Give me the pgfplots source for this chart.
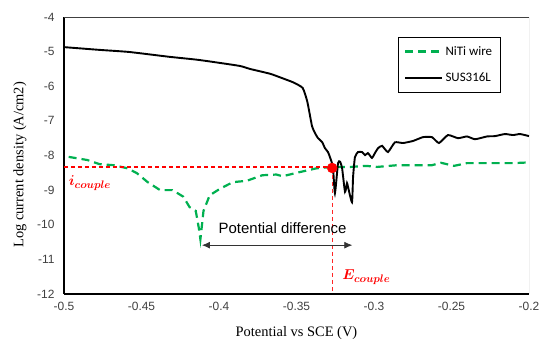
\documentclass[border=0pt]{standalone}
\usepackage{pgfplots}
\pgfplotsset{compat=1.18}
\usepackage{fontspec}
\usepackage{bm}
\setmainfont{Liberation Serif}
\newfontfamily\arialf{Liberation Sans}
\newfontfamily\calibrif{Carlito}
\usetikzlibrary{calc,arrows.meta}
\definecolor{nitigreen}{RGB}{0,176,80}
\definecolor{tickgray}{RGB}{64,64,64}
\begin{document}
\begin{tikzpicture}
\begin{axis}[
  name=ax,
  scale only axis, width=465bp, height=277bp,
  xmin=-0.5, xmax=-0.2, ymin=-12, ymax=-4,
  xtick={-0.5,-0.45,-0.4,-0.35,-0.3,-0.25,-0.2},
  xticklabels={-0.5,-0.45,-0.4,-0.35,-0.3,-0.25,-0.2},
  ytick={-12,-11,-10,-9,-8,-7,-6,-5,-4},
  yticklabels={-12,-11,-10,-9,-8,-7,-6,-5,-4},
  major tick length=0pt,
  axis x line*=bottom, axis y line*=left,
  axis line style={black, line width=1.3bp, -},
  /pgf/number format/assume math mode=true,
  ticklabel style={font=\arialf\fontsize{12}{14}\selectfont, text=tickgray},
  xticklabel style={yshift=-5bp},
  yticklabel style={xshift=-6bp},
  xlabel={Potential vs SCE (V)},
  ylabel={Log current density (A/cm2)},
  label style={font=\fontsize{14.5}{17}\selectfont},
  xlabel style={at={(axis description cs:0.5,-0.141)}, anchor=center},
  ylabel style={at={(axis description cs:-0.095,0.466)}, anchor=center},
  legend style={at={(axis description cs:0.718,0.928)}, anchor=north west,
    draw=black, line width=0.9bp, font=\calibrif\fontsize{13}{15}\selectfont,
    inner xsep=6bp, inner ysep=7bp, row sep=12bp,
    nodes={inner sep=2bp}},
  legend cell align=left,
  legend image code/.code={\draw[#1] (0bp,0bp) -- (37bp,0bp);},
]
\addplot[nitigreen, line width=2.2bp, dash pattern=on 8bp off 5bp] coordinates {
(-0.497,-8.04) (-0.485,-8.13) (-0.477,-8.25) (-0.468,-8.28) (-0.459,-8.37)
(-0.453,-8.51) (-0.446,-8.77) (-0.438,-9.0) (-0.430,-9.0) (-0.423,-9.19)
(-0.419,-9.49) (-0.415,-9.6) (-0.413,-10.1) (-0.412,-10.42) (-0.410,-9.6)
(-0.406,-9.15) (-0.399,-8.95) (-0.391,-8.77) (-0.382,-8.73) (-0.372,-8.57)
(-0.363,-8.55) (-0.359,-8.6) (-0.348,-8.48) (-0.337,-8.37) (-0.327,-8.33)
(-0.315,-8.33) (-0.305,-8.30) (-0.298,-8.33) (-0.285,-8.28) (-0.2748,-8.28)
(-0.2626,-8.28) (-0.2568,-8.21) (-0.2484,-8.30) (-0.24,-8.22) (-0.21,-8.22)
(-0.2,-8.2)};
\addlegendentry{NiTi wire}
\addplot[black, line width=1.9bp, smooth, tension=0.3] coordinates {
(-0.5,-4.87) (-0.477,-4.95) (-0.458,-5.01) (-0.432,-5.15) (-0.413,-5.24)
(-0.387,-5.41) (-0.380,-5.50) (-0.367,-5.64) (-0.359,-5.77) (-0.352,-5.89)
(-0.346,-6.05) (-0.343,-6.45) (-0.340,-7.15) (-0.3381,-7.35) (-0.3361,-7.5)
(-0.3335,-7.61) (-0.3316,-7.79) (-0.3297,-7.9) (-0.3284,-8.05) (-0.3265,-8.33)
(-0.3252,-9.09) (-0.3232,-8.22) (-0.3219,-8.18) (-0.3206,-8.36) (-0.3187,-9.05)
(-0.3174,-8.8) (-0.3168,-8.9) (-0.3142,-9.35) (-0.3135,-8.62) (-0.3123,-8.05)
(-0.3103,-7.9) (-0.3077,-7.9) (-0.3058,-7.99) (-0.3039,-7.93) (-0.3013,-8.07)
(-0.2994,-7.93) (-0.2974,-7.79) (-0.2948,-7.72) (-0.2910,-7.9) (-0.2865,-7.62)
(-0.2813,-7.64) (-0.2748,-7.58) (-0.2684,-7.47) (-0.2626,-7.47) (-0.2581,-7.64)
(-0.2523,-7.41) (-0.2458,-7.50) (-0.24,-7.45) (-0.2348,-7.53) (-0.2271,-7.45)
(-0.2219,-7.44) (-0.2155,-7.38) (-0.2103,-7.41) (-0.2058,-7.38) (-0.2,-7.44)};
\addlegendentry{SUS316L}
\addplot[red, line width=1.2bp, dash pattern=on 4bp off 3bp, forget plot] coordinates {(-0.5,-8.33) (-0.327,-8.33)};
\addplot[red!85, line width=1.2bp, dash pattern=on 4bp off 3bp, forget plot] coordinates {(-0.327,-8.36) (-0.327,-12)};
\addplot[only marks, mark=*, mark size=5bp, red, forget plot] coordinates {(-0.327,-8.36)};
\draw[black!80, line width=0.8bp, {Latex[length=8bp,width=7bp]}-{Latex[length=8bp,width=7bp]}] (axis cs:-0.411,-10.59) -- (axis cs:-0.314,-10.59);
\node[font=\arialf\fontsize{15}{18}\selectfont, anchor=center] at (axis cs:-0.359,-10.09) {Potential difference};
\node[red, anchor=west, font=\fontsize{15}{18}\selectfont, inner sep=0pt] at (axis cs:-0.497,-8.8) {$\bm{i_{couple}}$};
\node[red, anchor=west, font=\fontsize{15}{18}\selectfont, inner sep=0pt] at (axis cs:-0.3205,-11.52) {$\bm{E_{couple}}$};
\draw[black!75, line width=0.8bp] (rel axis cs:0,1) -- (rel axis cs:1,1);
\draw[black!45, line width=0.8bp] (rel axis cs:1,1) -- (rel axis cs:1,0);
\end{axis}
\pgfresetboundingbox
\path ($(ax.south west)+(-64bp,-47bp)$) rectangle ($(ax.north east)+(10bp,17bp)$);
\end{tikzpicture}
\end{document}
